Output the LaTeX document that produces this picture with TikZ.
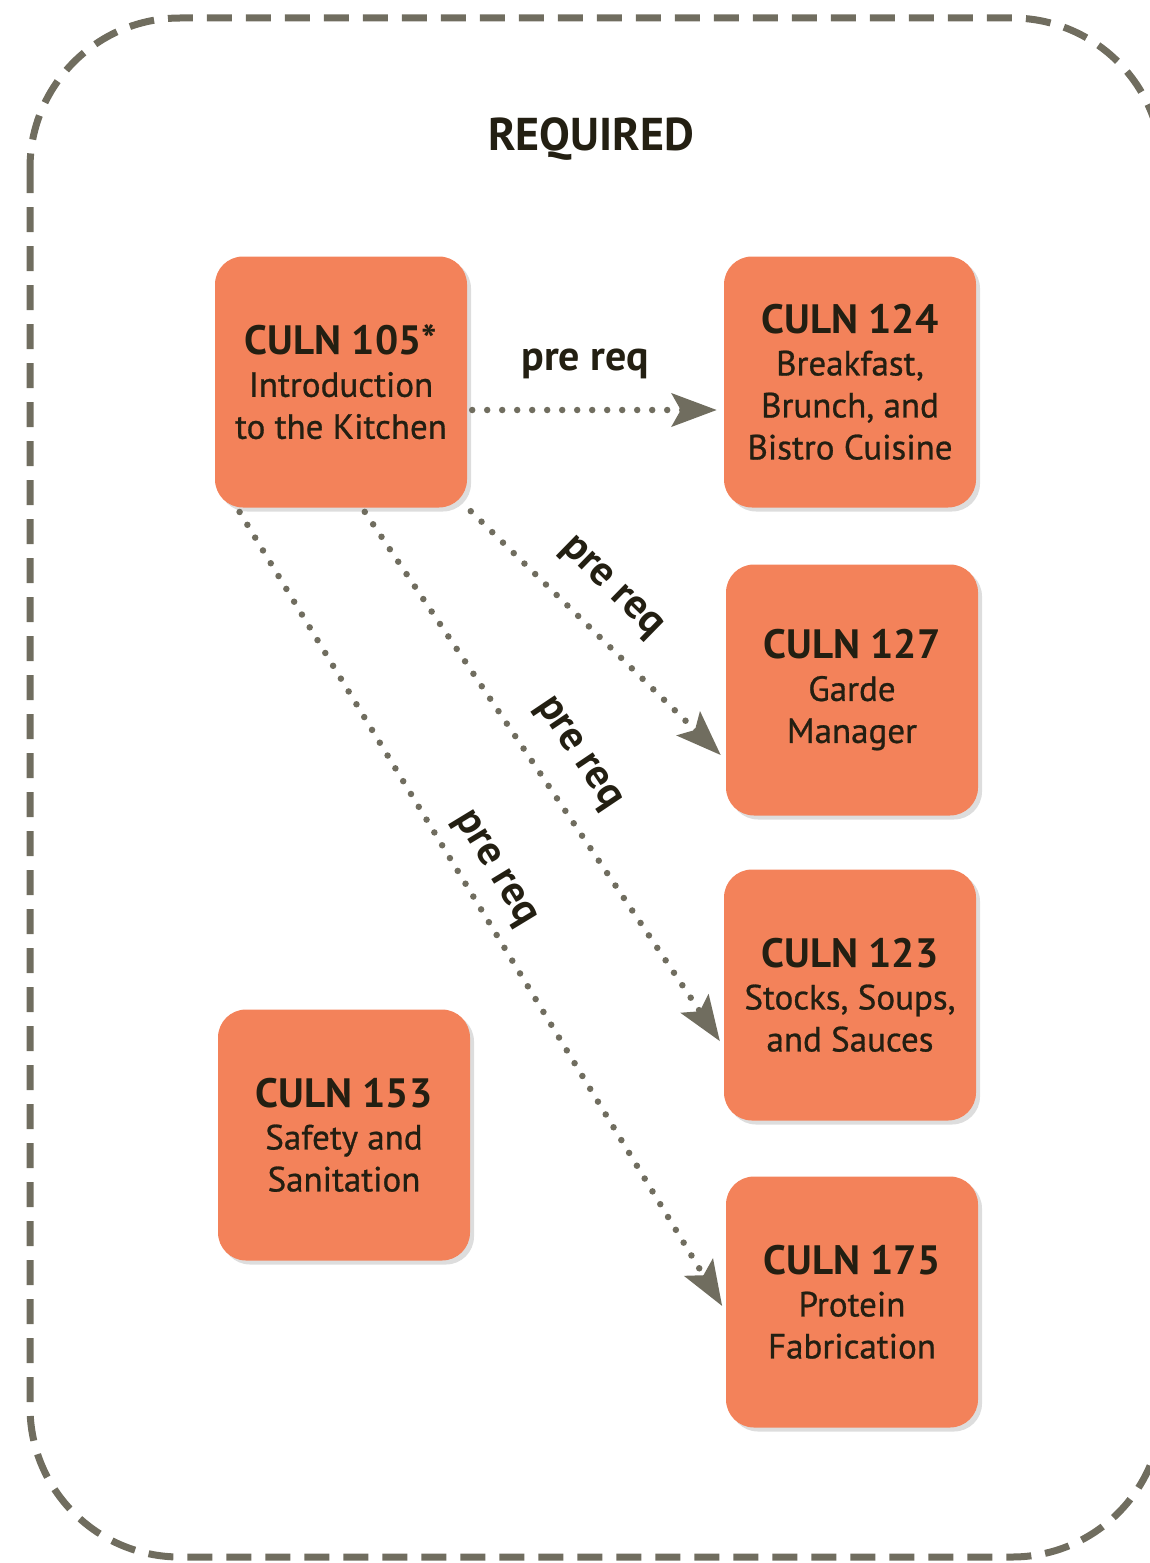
\documentclass[tikz,border=0pt]{standalone}
\usepackage{fontspec}
\setmainfont{PT Sans}
\newfontfamily\descfont[FakeBold=0.8]{PT Sans}
\usetikzlibrary{arrows.meta,positioning,shadows}

\definecolor{culnorange}{HTML}{F3825A}
\definecolor{culntext}{HTML}{231F12}
\definecolor{culngray}{HTML}{706D5F}

\newcommand{\culn}[1]{{\normalfont\bfseries\fontsize{41}{42}\selectfont CULN #1}}

\begin{document}
\begin{tikzpicture}[x=1pt,y=-1pt,node distance=300pt,on grid,
	course/.style={fill=culnorange,rounded corners=28pt,minimum width=252pt,minimum height=251pt,
		align=center,text=culntext,font=\descfont\fontsize{35}{42}\selectfont,
		drop shadow={shadow xshift=4pt,shadow yshift=-4pt,opacity=.22,fill=black!60}},
	prereq/.style={color=culngray,line width=6.5pt,dash pattern=on 0pt off 15pt,line cap=round,
		-{Stealth[length=45pt,width=33pt,inset=9pt]},shorten >=7pt,shorten <=5pt},
	req/.style={font=\bfseries\fontsize{42}{44}\selectfont,text=culntext,inner sep=0pt,sloped}]

	\useasboundingbox (0,0) rectangle (1150,1563);

	% frame
	\draw[culngray,line width=7pt,dash pattern=on 25pt off 14pt,rounded corners=150pt]
		(30,18) rectangle (1162,1557);

	\node[font=\bfseries\fontsize{46}{50}\selectfont,text=culntext] (title) at (591,139) {REQUIRED};

	\node[course] (c105) at (341,382) {\culn{105*}\\Introduction\\to the Kitchen};
	\node[course] (c124) [right=509pt of c105] {\culn{124}\\Breakfast,\\Brunch, and\\Bistro Cuisine};
	\node[course] (c127) [below=308pt of c124,xshift=2pt] {\culn{127}\\Garde\\Manager};
	\node[course] (c123) [below=305pt of c127,xshift=-2pt] {\culn{123}\\Stocks, Soups,\\and Sauces};
	\node[course] (c175) [below=307pt of c123,xshift=2pt] {\culn{175}\\Protein\\Fabrication};
	\node[course] (c153) [below=753pt of c105,xshift=3pt] {\culn{153}\\Safety and\\Sanitation};

	\path[prereq]

	([yshift=-28pt]c105.east) edge node[req,pos=.46,above=28pt] {pre req} ([yshift=-28pt]c124.west)

	(c105.south east) edge node[req,pos=.44,above=24pt] {pre req} ([yshift=-70pt]c127.west)

	([xshift=21pt]c105.south) edge node[req,pos=.50,above=23pt] {pre req} ([yshift=-52pt]c123.west)

	([xshift=-104pt]c105.south) edge node[req,pos=.47,above=13pt] {pre req} ([yshift=-10pt]c175.west);

\end{tikzpicture}
\end{document}
